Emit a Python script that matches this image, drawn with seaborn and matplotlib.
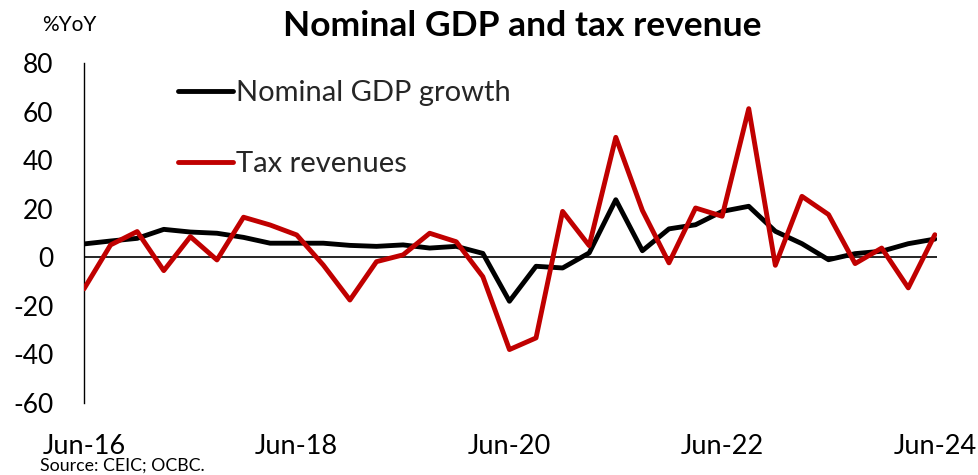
import matplotlib
matplotlib.use("Agg")
import matplotlib.pyplot as plt
import seaborn as sns
import pandas as pd

# ---- data ----
quarters = [
    "Jun-16", "Sep-16", "Dec-16", "Mar-17", "Jun-17", "Sep-17", "Dec-17", "Mar-18",
    "Jun-18", "Sep-18", "Dec-18", "Mar-19", "Jun-19", "Sep-19", "Dec-19", "Mar-20",
    "Jun-20", "Sep-20", "Dec-20", "Mar-21", "Jun-21", "Sep-21", "Dec-21", "Mar-22",
    "Jun-22", "Sep-22", "Dec-22", "Mar-23", "Jun-23", "Sep-23", "Dec-23", "Mar-24",
    "Jun-24",
]
gdp_growth = [
    5.5, 6.7, 7.8, 11.5, 10.4, 9.9, 8.2, 5.8,
    5.8, 5.8, 4.9, 4.5, 5.1, 3.8, 4.5, 1.6,
    -18.1, -3.7, -4.4, 1.8, 23.7, 2.7, 11.7, 13.4,
    18.9, 21.0, 10.7, 5.6, -1.0, 1.5, 2.5, 5.6,
    7.5,
]
tax_revenues = [
    -13.0, 5.1, 10.6, -5.5, 8.5, -1.1, 16.5, 13.3,
    9.2, -3.2, -17.6, -1.8, 1.0, 9.9, 6.4, -8.0,
    -38.0, -33.2, 18.9, 4.8, 49.4, 19.3, -2.3, 20.3,
    16.9, 61.2, -3.3, 25.1, 17.6, -2.6, 3.8, -12.6,
    9.3,
]
series_names = ["Nominal GDP growth", "Tax revenues"]
tick_labels = ["Jun-16", "Jun-18", "Jun-20", "Jun-22", "Jun-24"]
y_ticks = [-60, -40, -20, 0, 20, 40, 60, 80]

# ---- styling ----
sns.set_theme(style="white")
plt.rcParams["font.family"] = ["Lato", "DejaVu Sans"]

W, H = 979, 475
fig = plt.figure(figsize=(W / 100, H / 100), dpi=100)
ax = fig.add_axes([84 / W, 1 - 403 / H, (937 - 84) / W, (403 - 63) / H])

n = len(quarters)
df = pd.DataFrame({
    "quarter": quarters * 2,
    "x": list(range(n)) * 2,
    "value": gdp_growth + tax_revenues,
    "series": [series_names[0]] * n + [series_names[1]] * n,
})

palette = {series_names[0]: "#000000", series_names[1]: "#C00000"}
sns.lineplot(data=df, x="x", y="value", hue="series", palette=palette,
             linewidth=3.5, sort=False, ax=ax, zorder=3)

ax.axhline(0, color="black", linewidth=1.2, zorder=2)

ax.set_xlim(0, n - 1 + 0.08)
ax.set_ylim(-60, 80)
ax.set_yticks(y_ticks)
ax.set_yticklabels([str(v) for v in y_ticks])
ax.set_xticks([quarters.index(t) for t in tick_labels])
ax.set_xticklabels(tick_labels)
ax.set_xlabel("")
ax.set_ylabel("")

for s in ["top", "right", "bottom"]:
    ax.spines[s].set_visible(False)
ax.spines["left"].set_color("black")
ax.spines["left"].set_linewidth(1.0)
ax.grid(False)

ax.tick_params(axis="y", length=0, pad=22, labelsize=19, labelcolor="black")
ax.tick_params(axis="x", length=0, pad=22, labelsize=19.5, labelcolor="black")

leg = ax.legend(
    loc="upper left",
    bbox_to_anchor=(178 / W, 1 - 80 / H),
    bbox_transform=fig.transFigure,
    frameon=False,
    fontsize=21,
    handlelength=1.9,
    handletextpad=0.1,
    labelspacing=1.55,
    borderpad=0,
    borderaxespad=0,
)
for line in leg.get_lines():
    line.set_linewidth(3.5)
    line.set_solid_capstyle("round")

fig.text(522 / W, 1 - 26 / H, "Nominal GDP and tax revenue", ha="center",
         va="center", fontsize=25.5, fontweight="bold", color="black")
fig.text(42 / W, 1 - 25 / H, "%YoY", ha="left", va="center", fontsize=15,
         color="black")
fig.text(40 / W, 1 - 466 / H, "Source: CEIC; OCBC.", ha="left", va="center",
         fontsize=12.8, color="black")

fig.savefig("out.png", dpi=100)
